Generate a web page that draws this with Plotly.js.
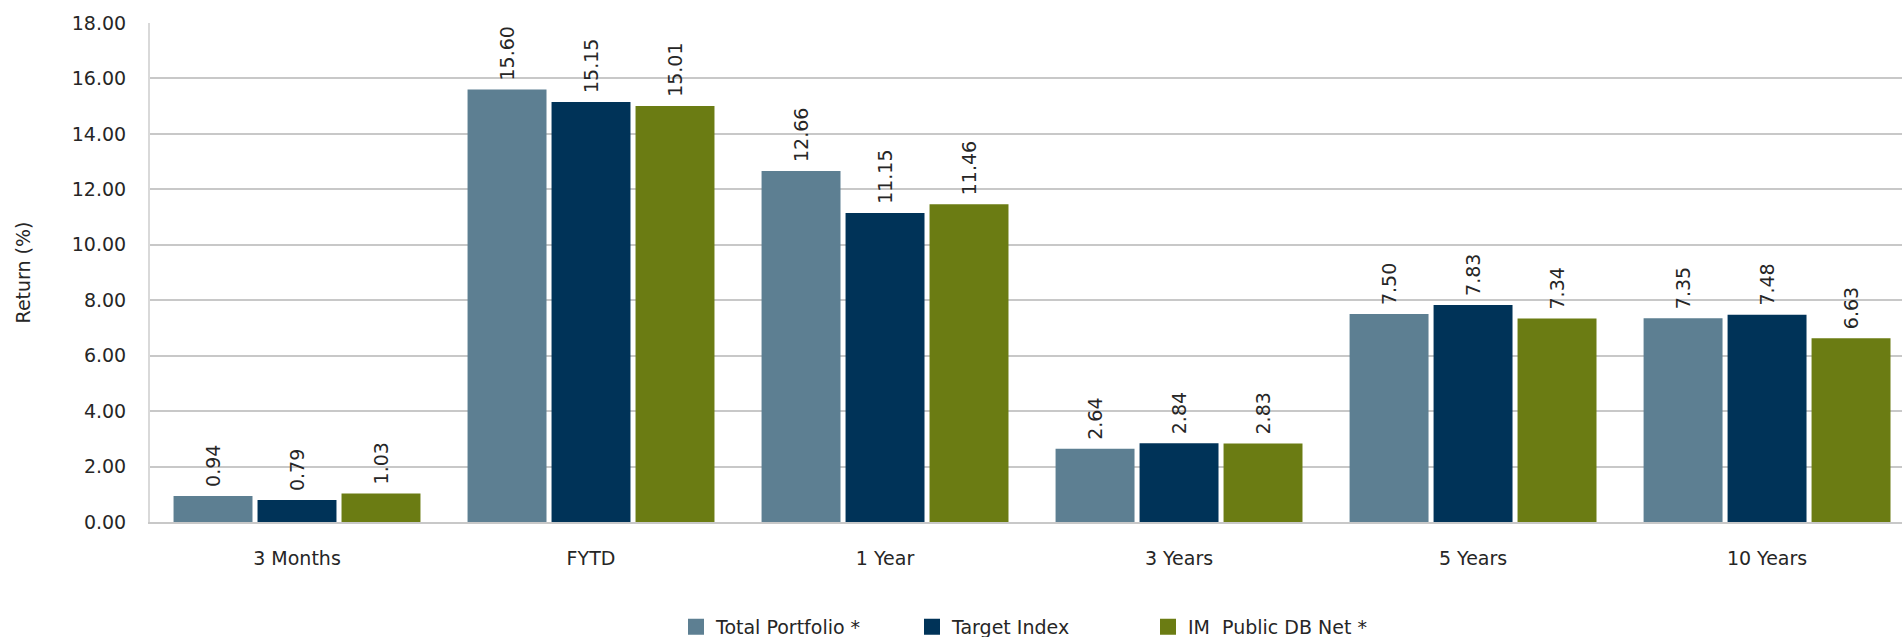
<!DOCTYPE html>
<html>
<head>
<meta charset="utf-8">
<script src="https://cdn.plot.ly/plotly-3.0.1.min.js"></script>
<style>
html,body{margin:0;padding:0;background:#fff;}
#chart{width:1902px;height:637px;}
</style>
</head>
<body>
<div id="chart"></div>
<script>
const categories = ["3 Months", "FYTD", "1 Year", "3 Years", "5 Years", "10 Years"];
const seriesNames = ["Total Portfolio *", "Target Index", "IM  Public DB Net *"];
const totalPortfolio = [0.94, 15.60, 12.66, 2.64, 7.50, 7.35];
const targetIndex = [0.79, 15.15, 11.15, 2.84, 7.83, 7.48];
const imPublicDB = [1.03, 15.01, 11.46, 2.83, 7.34, 6.63];
const yTickVals = [0, 2, 4, 6, 8, 10, 12, 14, 16, 18];
const yTickText = ["0.00", "2.00", "4.00", "6.00", "8.00", "10.00", "12.00", "14.00", "16.00", "18.00"];
const colors = ["#5d7f92", "#003358", "#6b7c13"];

const FONT = "Century Gothic, 'DejaVu Sans', sans-serif";
const values = [totalPortfolio, targetIndex, imPublicDB];
const legendIds = ["legend", "legend2", "legend3"];

const traces = [];
values.forEach((v, i) => {
  traces.push({
    type: "bar",
    name: seriesNames[i],
    x: categories,
    y: v,
    marker: {color: colors[i]},
    text: v.map(d => "\u00a0" + d.toFixed(2)),
    textposition: "outside",
    textangle: -90,
    textfont: {family: FONT, size: 19, color: "#262626"},
    cliponaxis: false,
    showlegend: false
  });
});
// legend-only entries (square swatches)
values.forEach((v, i) => {
  traces.push({
    type: "scatter",
    mode: "markers",
    name: seriesNames[i],
    x: [null],
    y: [null],
    marker: {symbol: "square", size: 18, color: colors[i]},
    showlegend: true,
    legend: legendIds[i]
  });
});

const legendBase = {
  orientation: "h",
  xref: "container",
  yref: "container",
  xanchor: "left",
  yanchor: "middle",
  y: 0.016,
  bgcolor: "rgba(0,0,0,0)",
  font: {family: FONT, size: 19, color: "#262626"},
  itemwidth: 30
};
const legendX = [676, 912, 1148];

const layout = {
  width: 1902,
  height: 637,
  margin: {l: 150, r: 0, t: 23, b: 115, pad: 0},
  paper_bgcolor: "#ffffff",
  plot_bgcolor: "#ffffff",
  font: {family: FONT, size: 19, color: "#262626"},
  barmode: "group",
  bargap: 0.143,
  bargroupgap: 0.06,
  showlegend: true,
  legend: Object.assign({}, legendBase, {x: legendX[0] / 1902}),
  legend2: Object.assign({}, legendBase, {x: legendX[1] / 1902}),
  legend3: Object.assign({}, legendBase, {x: legendX[2] / 1902}),
  xaxis: {
    type: "category",
    range: [-0.5, 5.459],
    showgrid: false,
    showline: true,
    linecolor: "#c8c8c8",
    linewidth: 2,
    ticks: "",
    ticklabelstandoff: 18,
    tickfont: {family: FONT, size: 19, color: "#262626"},
    fixedrange: true
  },
  yaxis: {
    range: [0, 18],
    tickvals: yTickVals,
    ticktext: yTickText,
    showgrid: true,
    gridcolor: "#c8c8c8",
    gridwidth: 2,
    zeroline: false,
    showline: true,
    linecolor: "#d9d9d9",
    linewidth: 2,
    ticks: "",
    ticklabelstandoff: 18,
    tickfont: {family: FONT, size: 19, color: "#262626"},
    title: {text: "Return (%)", font: {family: FONT, size: 19, color: "#262626"}, standoff: 36},
    fixedrange: true
  }
};

Plotly.newPlot("chart", traces, layout, {displayModeBar: false, staticPlot: true});
</script>
</body>
</html>
